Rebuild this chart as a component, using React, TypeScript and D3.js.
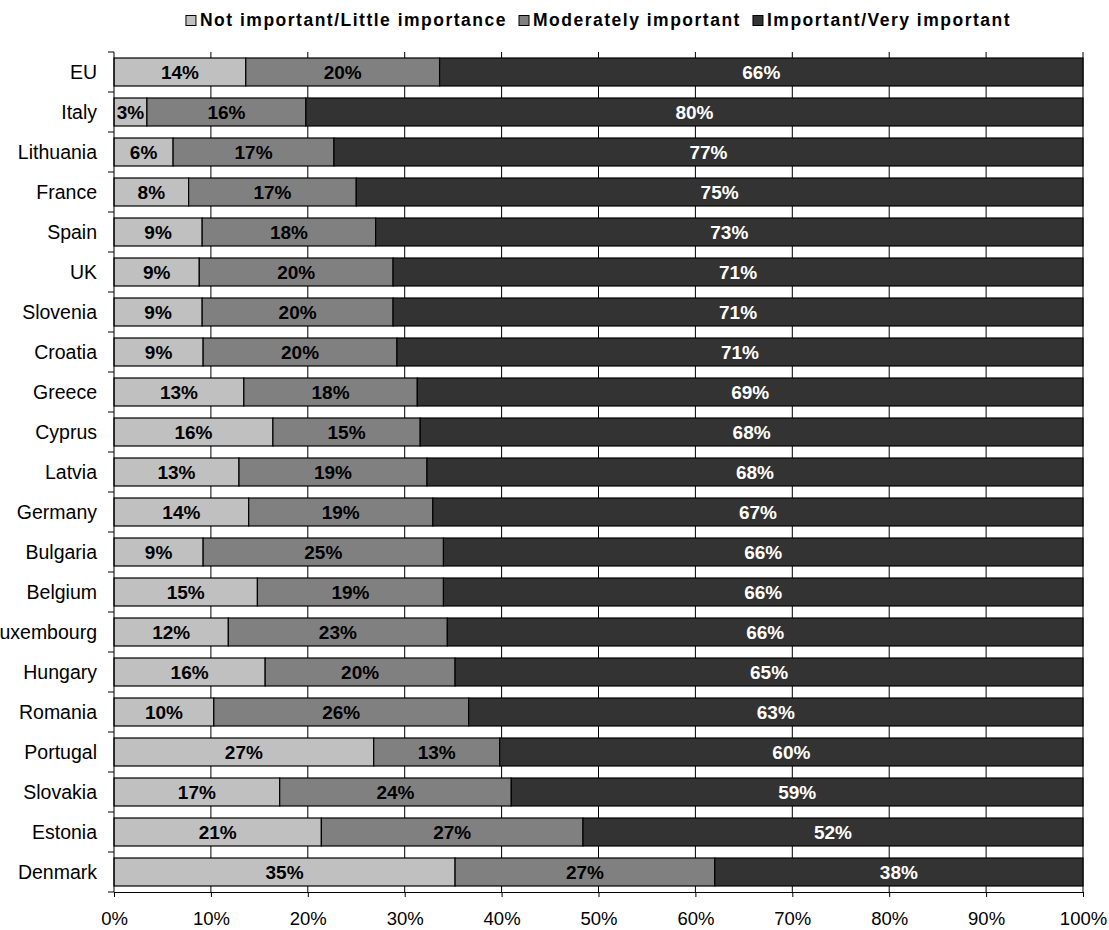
import React, { useEffect, useRef } from 'react';
import * as d3 from 'd3';

const categories = ['EU', 'Italy', 'Lithuania', 'France', 'Spain', 'UK', 'Slovenia', 'Croatia', 'Greece', 'Cyprus', 'Latvia',
  'Germany', 'Bulgaria', 'Belgium', 'Luxembourg', 'Hungary', 'Romania', 'Portugal', 'Slovakia', 'Estonia', 'Denmark'];
const notImportant = [13.6, 3.4, 6.1, 7.7, 9.1, 8.8, 9.1, 9.2, 13.4, 16.4, 12.9, 13.9, 9.2, 14.8, 11.8, 15.6, 10.3, 26.8, 17.1, 21.4, 35.2];
const moderately = [20.0, 16.4, 16.6, 17.3, 17.9, 20.0, 19.7, 20.0, 17.9, 15.2, 19.4, 19.0, 24.8, 19.2, 22.6, 19.6, 26.3, 13.0, 23.9, 27.0, 26.8];
const important = [66.4, 80.2, 77.3, 75.0, 73.0, 71.2, 71.2, 70.8, 68.7, 68.4, 67.7, 67.1, 66.0, 66.0, 65.6, 64.8, 63.4, 60.2, 59.0, 51.6, 38.0];
const seriesNames = ['Not important/Little importance', 'Moderately important', 'Important/Very important'];
const xTicks = [0, 10, 20, 30, 40, 50, 60, 70, 80, 90, 100];

const colors = ['#c0c0c0', '#808080', '#333333'];
const font = '"Liberation Sans", Arial, sans-serif';

export default function App() {
  const ref = useRef<SVGSVGElement>(null);

  useEffect(() => {
    const svg = d3.select(ref.current);
    svg.selectAll('*').remove();

    const W = 1109, H = 930;
    const margin = { top: 52, right: 26, bottom: 38, left: 114 };

    const x = d3.scaleLinear().domain([0, 100]).range([margin.left, W - margin.right]);
    const y = d3.scaleBand().domain(categories).range([margin.top, H - margin.bottom])
      .paddingInner(0.3).paddingOuter(0.15);

    const table = categories.map((c, i) => ({ cat: c, a: notImportant[i], b: moderately[i], c: important[i] }));
    const stack = d3.stack<any>().keys(['a', 'b', 'c'])(table);

    // gridlines
    svg.append('g').selectAll('line').data(xTicks.slice(1)).enter().append('line')
      .attr('x1', d => x(d)).attr('x2', d => x(d))
      .attr('y1', margin.top).attr('y2', H - margin.bottom)
      .attr('stroke', '#000').attr('stroke-width', 1);

    // bars
    const layers = svg.append('g').selectAll('g').data(stack).enter().append('g')
      .attr('fill', (d, i) => colors[i]);
    layers.selectAll('rect').data(d => d).enter().append('rect')
      .attr('x', d => x(d[0]))
      .attr('width', d => x(d[1]) - x(d[0]))
      .attr('y', d => y(d.data.cat)!)
      .attr('height', y.bandwidth())
      .attr('stroke', '#000').attr('stroke-width', 1.2);

    // value labels
    stack.forEach((layer, i) => {
      svg.append('g').selectAll('text').data(layer).enter().append('text')
        .attr('x', d => (x(d[0]) + x(d[1])) / 2)
        .attr('y', d => y(d.data.cat)! + y.bandwidth() / 2 + 7)
        .attr('text-anchor', 'middle')
        .attr('font-family', font).attr('font-size', 19).attr('font-weight', 'bold')
        .attr('fill', i === 2 ? '#fff' : '#000')
        .text(d => Math.round(d[1] - d[0]) + '%');
    });

    // x axis
    const xAxis = svg.append('g')
      .attr('transform', `translate(0,${H - margin.bottom})`)
      .call(d3.axisBottom(x).tickValues(xTicks).tickSize(5).tickSizeOuter(0).tickPadding(15)
        .tickFormat(d => d + '%'));
    xAxis.selectAll('text').attr('font-family', font).attr('font-size', 18.5).attr('fill', '#000');
    xAxis.selectAll('line,path').attr('stroke', '#000');

    // y axis
    const step = y.step();
    const y0 = y.range()[0];
    svg.append('line').attr('x1', margin.left).attr('x2', margin.left)
      .attr('y1', margin.top).attr('y2', H - margin.bottom).attr('stroke', '#000');
    svg.append('g').selectAll('line').data(d3.range(categories.length + 1)).enter().append('line')
      .attr('x1', margin.left - 6).attr('x2', margin.left)
      .attr('y1', i => y0 + i * step).attr('y2', i => y0 + i * step)
      .attr('stroke', '#000');
    svg.append('g').selectAll('text').data(categories).enter().append('text')
      .attr('x', margin.left - 17)
      .attr('y', d => y(d)! + y.bandwidth() / 2 + 7)
      .attr('text-anchor', 'end')
      .attr('font-family', font).attr('font-size', 19.5)
      .text(d => d);

    // legend
    const legend = svg.append('g');
    let cx = 0;
    seriesNames.forEach((name, i) => {
      legend.append('rect').attr('x', cx).attr('y', 15.5).attr('width', 10).attr('height', 10)
        .attr('fill', colors[i]).attr('stroke', '#000');
      const t = legend.append('text').attr('x', cx + 14).attr('y', 26)
        .attr('font-family', font).attr('font-size', 17.5).attr('font-weight', 'bold')
        .attr('letter-spacing', 1.5)
        .text(name);
      const w = (t.node() as SVGTextElement).getComputedTextLength();
      cx += 14 + w + 12;
    });
    const lw = cx - 12;
    legend.attr('transform', `translate(${(x(0) + x(100)) / 2 - lw / 2},0)`);
  }, []);

  return (
    <svg ref={ref} width={1109} height={930}
      style={{ position: 'absolute', left: 0, top: 0, background: '#fff' }} />
  );
}
